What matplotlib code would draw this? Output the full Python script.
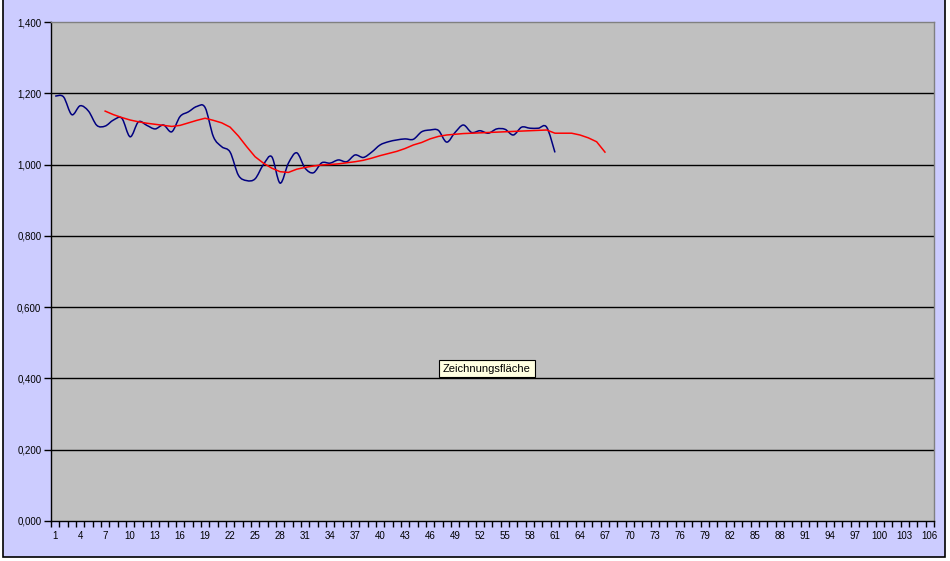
import matplotlib
matplotlib.use("Agg")
import matplotlib.pyplot as plt
from matplotlib.path import Path
from matplotlib.patches import PathPatch, Rectangle
from matplotlib.ticker import FuncFormatter, FixedLocator
import numpy as np

plt.rcParams['font.family'] = ['Liberation Sans', 'DejaVu Sans']

# ---- data ----
categories = list(range(1, 107))
tick_labels = [str(c) for c in range(1, 107, 3)]

blue_x = list(range(1, 62))
blue_y = [1.192, 1.190, 1.140, 1.165, 1.150, 1.110, 1.108, 1.125, 1.130, 1.078,
          1.120, 1.110, 1.100, 1.111, 1.092, 1.135, 1.148, 1.163, 1.160, 1.078,
          1.050, 1.035, 0.970, 0.955, 0.960, 1.000, 1.022, 0.948, 1.004, 1.033,
          0.990, 0.977, 1.005, 1.004, 1.013, 1.008, 1.027, 1.020, 1.035, 1.055,
          1.064, 1.069, 1.072, 1.071, 1.092, 1.097, 1.096, 1.063, 1.090, 1.111,
          1.090, 1.095, 1.088, 1.100, 1.099, 1.083, 1.105, 1.102, 1.102, 1.105,
          1.034]

red_x = list(range(7, 68))
red_y = [1.150, 1.140, 1.132, 1.125, 1.120, 1.116, 1.113, 1.110, 1.107, 1.110,
         1.117, 1.124, 1.130, 1.124, 1.117, 1.105, 1.080, 1.050, 1.022, 1.004,
         0.990, 0.980, 0.978, 0.987, 0.992, 0.996, 0.999, 1.000, 1.002, 1.005,
         1.008, 1.012, 1.018, 1.025, 1.031, 1.037, 1.045, 1.055, 1.062, 1.072,
         1.079, 1.083, 1.085, 1.087, 1.088, 1.089, 1.090, 1.091, 1.092, 1.093,
         1.094, 1.095, 1.096, 1.097, 1.088, 1.088, 1.088, 1.083, 1.075, 1.064,
         1.035]

y_ticks = [0.0, 0.2, 0.4, 0.6, 0.8, 1.0, 1.2, 1.4]


def smooth_path(xs, ys):
    """Excel-like smoothed line: cubic Bezier through the data points."""
    pts = np.column_stack([xs, ys]).astype(float)
    n = len(pts)
    verts = [pts[0]]
    codes = [Path.MOVETO]
    for i in range(n - 1):
        p0 = pts[i - 1] if i > 0 else pts[i]
        p1 = pts[i]
        p2 = pts[i + 1]
        p3 = pts[i + 2] if i + 2 < n else pts[i + 1]
        c1 = p1 + (p2 - p0) / 6.0
        c2 = p2 - (p3 - p1) / 6.0
        verts += [c1, c2, p2]
        codes += [Path.CURVE4] * 3
    return Path(verts, codes)


W, H = 950, 561
fig = plt.figure(figsize=(W / 100, H / 100), dpi=100)
fig.patch.set_facecolor('white')

# chart area (lavender) with black frame
bg = Rectangle((3 / W, 1 - 557 / H), 942 / W, 557 / H + 0.01,
               transform=fig.transFigure, facecolor='#ccccff',
               edgecolor='black', linewidth=1.2, zorder=-10)
fig.patches.append(bg)

ax = fig.add_axes([51 / W, (H - 521) / H, 883 / W, 499 / H])
ax.set_zorder(1)
ax.set_facecolor('#c0c0c0')
ax.set_xlim(0.5, 106.5)
ax.set_ylim(0, 1.4)

for v in y_ticks[1:-1]:
    ax.axhline(v, color='black', linewidth=1.0, zorder=1)

ax.spines['top'].set_color('#808080')
ax.spines['right'].set_color('#808080')
ax.spines['left'].set_color('black')
ax.spines['bottom'].set_color('black')
for s in ax.spines.values():
    s.set_linewidth(1.0)

ax.set_yticks(y_ticks)
ax.yaxis.set_major_formatter(FuncFormatter(lambda v, p: f"{v:.3f}".replace('.', ',')))
ax.tick_params(axis='y', direction='out', length=5, width=1, labelsize=7,
               pad=2, colors='black')

# category ticks between categories, labels every 3
ax.xaxis.set_major_locator(FixedLocator([c + 0.5 for c in range(0, 107)]))
ax.set_xticklabels([])
ax.tick_params(axis='x', which='major', direction='out', length=4, width=1)
ax.set_xticks([c for c in range(1, 107, 3)], minor=True)
ax.set_xticklabels(tick_labels, minor=True)
ax.tick_params(axis='x', which='minor', length=0, labelsize=7, pad=7)

# series
ax.add_patch(PathPatch(smooth_path(blue_x, blue_y), facecolor='none',
                       edgecolor='#000080', linewidth=1.1, zorder=3))
ax.plot(red_x, red_y, color='#ff0000', linewidth=1.1, zorder=3)

# tooltip
fig.text(487 / W, 1 - 368.5 / H, 'Zeichnungsfläche', fontsize=8,
         ha='center', va='center', color='black', zorder=5,
         bbox=dict(boxstyle='square,pad=0.35', facecolor='#ffffe1',
                   edgecolor='black', linewidth=0.8))

fig.savefig('out.png', dpi=100, facecolor=fig.get_facecolor())
